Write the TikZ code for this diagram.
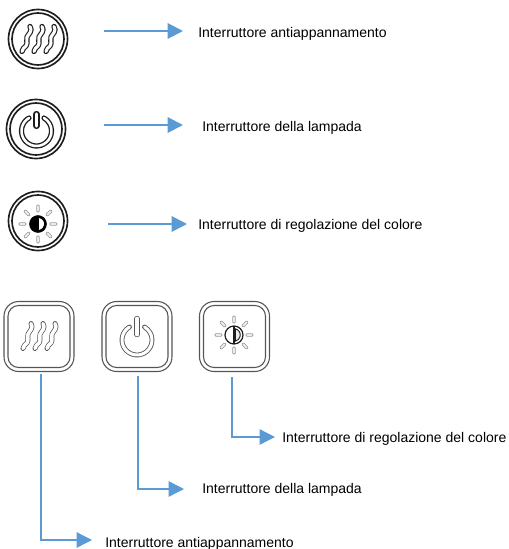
\documentclass[tikz,border=0pt]{standalone}
\usepackage{fontspec}
\setmainfont{Liberation Sans}
\usetikzlibrary{arrows.meta}
\definecolor{arrowblue}{HTML}{5B9BD5}
\definecolor{ink}{HTML}{1E1E1E}
\definecolor{softink}{HTML}{555555}
\tikzset{
  x=0.75pt,y=-0.75pt,
  conn/.style={draw=arrowblue,line width=1.5pt,-{Triangle[length=11.5pt,width=11.5pt]}},
  elbow/.style={conn,line width=1pt},
  lab/.style={anchor=west,inner sep=0pt,font=\fontsize{10.5pt}{12pt}\selectfont,text=black},
  ring/.style={draw=ink,line width=1.25pt,fill=none},
  softring/.style={draw=softink,line width=0.8pt,fill=none},
  ray/.style={draw=gray!80,line width=0.5pt,fill=gray!15}
}
% double stroke: colour, outer width, inner width, path
\newcommand{\dbl}[4]{\draw[line cap=round,line join=round,draw=#1,line width=#2]#4;\draw[line cap=round,line join=round,draw=white,line width=#3]#4;}
\newcommand{\wavepath}{(4,-12.5) .. controls (7,-8) and (2.5,-5) .. (1,-2) .. controls (-0.5,1) and (2.5,3) .. (0,7) .. controls (-1.5,9) and (-4,9.5) .. (-4,12.5)}
\newcommand{\waves}[4]{\foreach \dx in {-12,0,12}{\begin{scope}[shift={(#1)},xshift=\dx*0.75pt]\dbl{#2}{#3}{#4}{\wavepath}\end{scope}}}
\newcommand{\rays}[1]{\foreach \a in {0,45,...,315}{
   \begin{scope}[shift={(#1)},rotate=\a]\draw[ray,rounded corners=0.8pt] (12,-1.4) rectangle (19,1.4);\end{scope}}}
\begin{document}
\begin{tikzpicture}
\useasboundingbox (0,0) rectangle (508,549);
% round icons
\foreach \c in {{38,39},{36,129},{38,221}}{
 \begin{scope}[shift={(\c)}]
  \draw[ring] (0,0) circle (29.5); \draw[ring] (0,0) circle (26);
 \end{scope}}
\waves{38,39}{ink}{4pt}{2.3pt}
\begin{scope}[shift={(36.5,131)}]
 \dbl{ink}{3.9pt}{1.9pt}{(-7.5,-13) arc[start angle=-120,end angle=-420,radius=15]}
 \dbl{ink}{4.6pt}{2.6pt}{(0,-17) -- (0,-5)}
\end{scope}
\begin{scope}[shift={(38,224)}]
 \draw[fill=black,draw=black] (0,0) circle (8.5);
 \fill[white] (1.2,-5.8) arc[start angle=-80,end angle=80,radius=5.9] -- cycle;
\end{scope}
\rays{38,224}
% square buttons
\foreach \x in {4,102,199.5}{
 \draw[softring,rounded corners=11pt] (\x,301.5) rectangle ++(70,70);
 \draw[softring,rounded corners=8pt] (\x+4,305.5) rectangle ++(62,62);
}
\waves{39,336}{softink}{3.7pt}{2.6pt}
\begin{scope}[shift={(137,340)}]
 \dbl{softink}{3.6pt}{2.3pt}{(-7.5,-13) arc[start angle=-120,end angle=-420,radius=15]}
 \dbl{softink}{4pt}{2.8pt}{(0,-21.5) -- (0,-5.5)}
\end{scope}
\begin{scope}[shift={(234,335)}]
 \draw[softring,draw=ink,line width=0.9pt] (0,0) circle (9);
 \draw[draw=ink,line width=0.9pt] (0,-9) -- (0,9);
 \draw[draw=ink,line width=0.7pt,fill=gray!15] (1.3,-6.2) arc[start angle=-78,end angle=78,radius=6.3] -- cycle;
\end{scope}
\rays{234,335}
% top connectors
\coordinate (a1s) at (104,31); \coordinate (a1e) at (183,31);
\coordinate (a2s) at (104,125); \coordinate (a2e) at (183,125);
\coordinate (a3s) at (108,224); \coordinate (a3e) at (187,224);
\draw[conn] (a1s) -- (a1e);
\draw[conn] (a2s) -- (a2e);
\draw[conn] (a3s) -- (a3e);
\node[lab] (t1) at (198,33.5) {Interruttore antiappannamento};
\node[lab] (t2) at (202,127.5) {Interruttore della lampada};
\node[lab] (t3) at (198,225.5) {Interruttore di regolazione del colore};
% bottom connectors
\coordinate (b1s) at (41,374); \coordinate (b1e) at (92,540);
\coordinate (b2s) at (138,376); \coordinate (b2e) at (184,489);
\coordinate (b3s) at (232,377); \coordinate (b3e) at (275,437);
\draw[elbow] (b1s) |- (b1e);
\draw[elbow] (b2s) |- (b2e);
\draw[elbow] (b3s) |- (b3e);
\node[lab] (t4) at (105,544) {Interruttore antiappannamento};
\node[lab] (t5) at (202,490) {Interruttore della lampada};
\node[lab] (t6) at (282,438.5) {Interruttore di regolazione del colore};
\end{tikzpicture}
\end{document}
